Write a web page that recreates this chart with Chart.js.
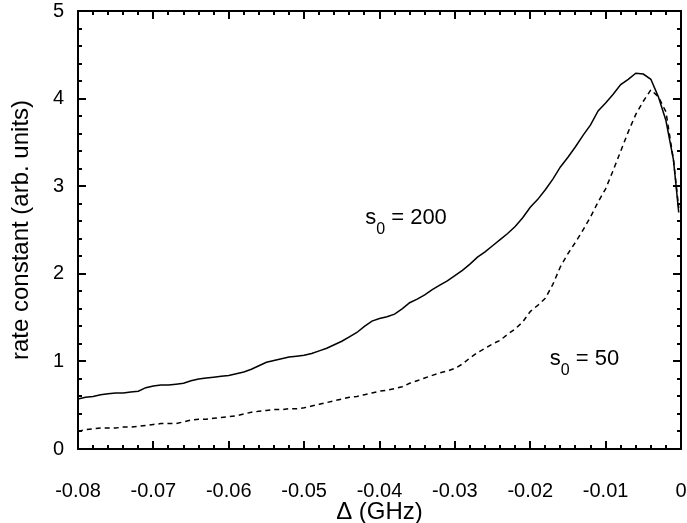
<!DOCTYPE html>
<html><head><meta charset="utf-8">
<script src="https://cdn.jsdelivr.net/npm/chart.js@4/dist/chart.umd.min.js"></script>
<style>html,body{margin:0;padding:0;background:#fff}canvas{display:block}</style>
</head><body>
<canvas id="c" width="687" height="523"></canvas>
<script>
const detuning = [-0.080,-0.079,-0.078,-0.077,-0.076,-0.075,-0.074,-0.073,-0.072,-0.071,
-0.070,-0.069,-0.068,-0.067,-0.066,-0.065,-0.064,-0.063,-0.062,-0.061,
-0.060,-0.059,-0.058,-0.057,-0.056,-0.055,-0.054,-0.053,-0.052,-0.051,
-0.050,-0.049,-0.048,-0.047,-0.046,-0.045,-0.044,-0.043,-0.042,-0.041,
-0.040,-0.039,-0.038,-0.037,-0.036,-0.035,-0.034,-0.033,-0.032,-0.031,
-0.030,-0.029,-0.028,-0.027,-0.026,-0.025,-0.024,-0.023,-0.022,-0.021,
-0.020,-0.019,-0.018,-0.017,-0.016,-0.015,-0.014,-0.013,-0.012,-0.011,
-0.010,-0.009,-0.008,-0.007,-0.006,-0.005,-0.004,-0.003,-0.002,-0.001,-0.0003];
const rateS200 = [0.57,0.59,0.60,0.62,0.63,0.64,0.64,0.65,0.66,0.70,
0.72,0.73,0.73,0.74,0.75,0.78,0.80,0.81,0.82,0.83,
0.84,0.86,0.88,0.91,0.95,0.99,1.01,1.03,1.05,1.06,
1.07,1.09,1.12,1.15,1.19,1.23,1.28,1.33,1.40,1.46,
1.49,1.51,1.54,1.60,1.67,1.71,1.76,1.82,1.87,1.92,
1.98,2.04,2.11,2.19,2.25,2.32,2.39,2.46,2.54,2.64,
2.76,2.85,2.96,3.08,3.22,3.33,3.45,3.58,3.70,3.86,
3.95,4.05,4.16,4.22,4.29,4.28,4.22,4.02,3.75,3.30,2.70];
const rateS50 = [0.20,0.22,0.23,0.24,0.24,0.24,0.25,0.25,0.26,0.27,
0.28,0.29,0.29,0.29,0.31,0.33,0.34,0.34,0.35,0.36,
0.37,0.38,0.40,0.42,0.43,0.44,0.45,0.45,0.46,0.46,
0.47,0.49,0.51,0.53,0.55,0.57,0.59,0.60,0.62,0.64,
0.66,0.67,0.69,0.71,0.75,0.78,0.81,0.84,0.87,0.89,
0.92,0.97,1.04,1.10,1.15,1.20,1.24,1.31,1.37,1.45,
1.57,1.64,1.72,1.88,2.08,2.23,2.36,2.50,2.65,2.82,
2.97,3.18,3.40,3.62,3.82,3.97,4.10,4.02,3.85,3.30,2.75];
const xMajorTicks = [-0.08,-0.07,-0.06,-0.05,-0.04,-0.03,-0.02,-0.01,0];
const yMajorTicks = [0,1,2,3,4,5];
const labels = [
  {main:'s', sub:'0', rest:' = 200', x:-0.0419, y:2.57},
  {main:'s', sub:'0', rest:' = 50', x:-0.0174, y:0.96}
];

const FONT = '"Liberation Sans", Arial, sans-serif';

const framePlugin = {
  id:'framePlugin',
  afterDatasetsDraw(chart){
    const {ctx, chartArea:a, scales:{x, y}} = chart;
    ctx.save();
    ctx.strokeStyle = '#000';
    ctx.lineWidth = 2;
    ctx.strokeRect(a.left, a.top, a.right - a.left, a.bottom - a.top);
    ctx.beginPath();
    const xMinor = [];
    for (let i = 0; i < xMajorTicks.length - 1; i++) {
      for (let k = 1; k < 5; k++) xMinor.push(xMajorTicks[i] + (xMajorTicks[i+1]-xMajorTicks[i]) * k / 5);
    }
    const yMinor = [];
    for (let i = 0; i < yMajorTicks.length - 1; i++) {
      for (let k = 1; k < 5; k++) yMinor.push(yMajorTicks[i] + (yMajorTicks[i+1]-yMajorTicks[i]) * k / 5);
    }
    const xt = (v, len) => { const p = Math.round(x.getPixelForValue(v)); ctx.moveTo(p, a.bottom); ctx.lineTo(p, a.bottom - len); ctx.moveTo(p, a.top); ctx.lineTo(p, a.top + len); };
    const yt = (v, len) => { const p = Math.round(y.getPixelForValue(v)); ctx.moveTo(a.left, p); ctx.lineTo(a.left + len, p); ctx.moveTo(a.right, p); ctx.lineTo(a.right - len, p); };
    xMajorTicks.forEach(v => xt(v, 8));
    xMinor.forEach(v => xt(v, 4));
    yMajorTicks.forEach(v => yt(v, 8));
    yMinor.forEach(v => yt(v, 4));
    ctx.stroke();

    ctx.fillStyle = '#000';
    ctx.textBaseline = 'alphabetic';
    ctx.textAlign = 'left';
    labels.forEach(l => {
      let px = x.getPixelForValue(l.x);
      const py = y.getPixelForValue(l.y);
      ctx.font = '22px ' + FONT;
      ctx.fillText(l.main, px, py);
      px += ctx.measureText(l.main).width;
      ctx.font = '16px ' + FONT;
      ctx.fillText(l.sub, px, py + 10);
      px += ctx.measureText(l.sub).width;
      ctx.font = '22px ' + FONT;
      ctx.fillText(l.rest, px, py);
    });
    ctx.restore();
  }
};

new Chart(document.getElementById('c'), {
  type:'scatter',
  data:{
    datasets:[
      {label:'s0 = 200', data: detuning.map((d,i)=>({x:d, y:rateS200[i]})), showLine:true, borderColor:'#000', borderWidth:1.5, pointRadius:0, tension:0},
      {label:'s0 = 50', data: detuning.map((d,i)=>({x:d, y:rateS50[i]})), showLine:true, borderColor:'#000', borderWidth:1.5, borderDash:[5,4], pointRadius:0, tension:0}
    ]
  },
  options:{
    responsive:false,
    animation:false,
    devicePixelRatio:1,
    layout:{padding:{top:11, right:6, left:0, bottom:0}},
    plugins:{legend:{display:false}, tooltip:{enabled:false}},
    scales:{
      x:{
        type:'linear', min:-0.08, max:0,
        grid:{display:false, drawTicks:false},
        border:{display:false},
        ticks:{stepSize:0.01, color:'#000', font:{family:FONT, size:20}, padding:30, maxRotation:0,
          callback:(v)=>{ const r = Math.round(v*100)/100; return r === 0 ? '0' : r.toFixed(2); }},
        title:{display:true, text:'Δ (GHz)', color:'#000', font:{family:FONT, size:24, lineHeight:1}, padding:{top:0, bottom:-1}},
        afterFit(s){ s.height = 74; s.paddingLeft = 0; s.paddingRight = 0; }
      },
      y:{
        type:'linear', min:0, max:5,
        grid:{display:false, drawTicks:false},
        border:{display:false},
        ticks:{stepSize:1, color:'#000', font:{family:FONT, size:20}, padding:14},
        title:{display:true, text:'rate constant (arb. units)', color:'#000', font:{family:FONT, size:24, lineHeight:1}, padding:{top:9, bottom:0}},
        afterFit(s){ s.width = 78; s.paddingTop = 0; s.paddingBottom = 0; }
      }
    }
  },
  plugins:[framePlugin]
});
</script>
</body></html>
